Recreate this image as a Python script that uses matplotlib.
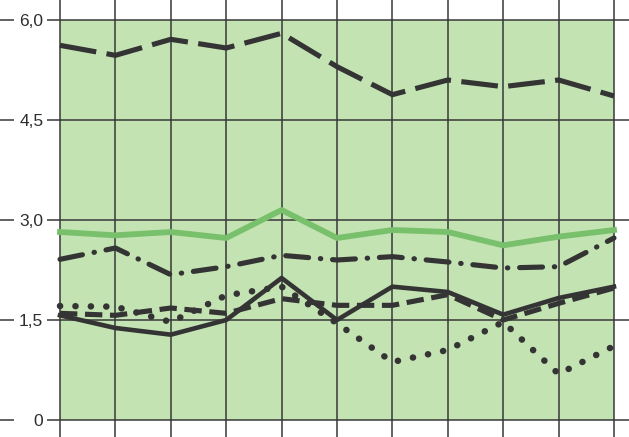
import numpy as np
import matplotlib
matplotlib.use("Agg")
import matplotlib.pyplot as plt

plt.rcParams['font.family'] = ['Liberation Sans', 'DejaVu Sans']
plt.rcParams['lines.scale_dashes'] = False

# valores (11 pontos)
x = np.arange(11)
linha_topo = [5.62, 5.47, 5.71, 5.58, 5.80, 5.30, 4.88, 5.10, 5.00, 5.10, 4.86]
linha_verde = [2.82, 2.77, 2.82, 2.73, 3.15, 2.73, 2.85, 2.82, 2.62, 2.75, 2.85]
linha_traco_ponto = [2.41, 2.58, 2.18, 2.30, 2.47, 2.40, 2.45, 2.37, 2.28, 2.30, 2.73]
linha_cheia = [1.57, 1.38, 1.28, 1.50, 2.13, 1.50, 2.00, 1.92, 1.58, 1.83, 2.00]
linha_tracejada = [1.60, 1.57, 1.68, 1.60, 1.82, 1.72, 1.72, 1.88, 1.50, 1.75, 1.98]
linha_pontos = [1.71, 1.70, 1.47, 1.87, 2.00, 1.45, 0.87, 1.05, 1.47, 0.69, 1.11]

y_ticks = [0, 1.5, 3.0, 4.5, 6.0]
y_labels = ['0', '1,5', '3,0', '4,5', '6,0']

W, H = 629, 437
fig = plt.figure(figsize=(W / 100, H / 100), dpi=100)
fig.patch.set_facecolor('white')
ax = fig.add_axes([60 / W, 17 / H, 554 / W, 400 / H])
ax.set_xlim(0, 10)
ax.set_ylim(0, 6)
ax.set_facecolor('#c3e3b3')
for s in ax.spines.values():
    s.set_visible(False)

# limites da figura em coordenadas de dados
px_x = 10 / 554
px_y = 6 / 400
x_esq = -60 * px_x
x_dir = 10 + 15 * px_x
y_baixo = -17 * px_y
y_cima = 6 + 20 * px_y

cor_grade = '#383838'
ax.vlines(x, y_baixo, y_cima, colors=cor_grade, lw=1.1, clip_on=False, zorder=1)
ax.hlines(y_ticks, -13 * px_x, x_dir, colors=cor_grade, lw=1.1, clip_on=False, zorder=1)
ax.hlines(y_ticks, x_esq, x_esq + 14 * px_x, colors=cor_grade, lw=1.1, clip_on=False, zorder=1)

ax.set_xticks([])
ax.set_yticks(y_ticks)
ax.set_yticklabels(y_labels, fontsize=12.5, color='#2e2e2e')
ax.tick_params(axis='y', length=0, pad=12)

escuro = '#343434'
ax.plot(x, linha_topo, color=escuro, lw=3.7, ls=(0, (26.5, 7.5)),
        dash_capstyle='butt', zorder=3, clip_on=False)
ax.plot(x, linha_verde, color='#79c06c', lw=4.2, zorder=3, clip_on=False)
ax.plot(x, linha_traco_ponto, color=escuro, lw=3.7, ls=(0, (16.5, 8.5, 0.3, 8.5)),
        dash_capstyle='round', zorder=3, clip_on=False)
ax.plot(x, linha_pontos, color=escuro, lw=4.7, ls=(0, (0.1, 11.0)),
        dash_capstyle='round', zorder=3, clip_on=False)
ax.plot(x, linha_tracejada, color=escuro, lw=3.7, ls=(0, (12.5, 5.5)),
        dash_capstyle='butt', zorder=3, clip_on=False)
ax.plot(x, linha_cheia, color=escuro, lw=3.3, zorder=4, clip_on=False)

fig.savefig('out.png', dpi=100)
